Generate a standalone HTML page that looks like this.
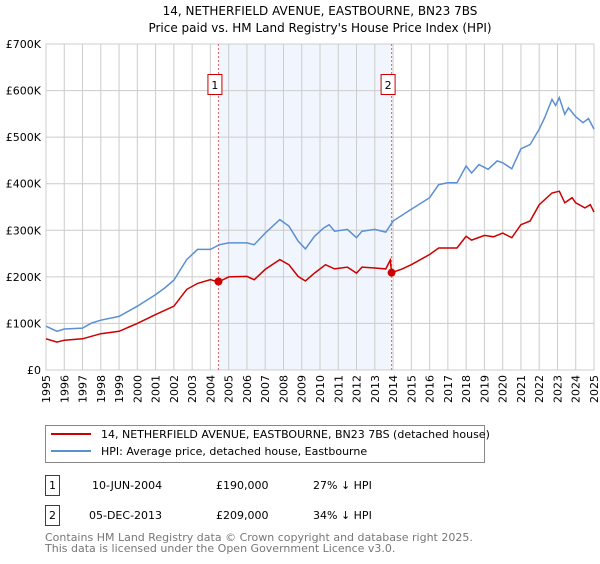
<!DOCTYPE html>
<html><head><meta charset="utf-8"><style>
body{margin:0;background:#fff;width:600px;height:560px;overflow:hidden;font-family:"DejaVu Sans","Liberation Sans",sans-serif;}
svg text{font-family:"DejaVu Sans","Liberation Sans",sans-serif;}
</style></head><body>
<svg id="chart" width="600" height="560" xmlns="http://www.w3.org/2000/svg">
<text x="320" y="15" font-size="12" text-anchor="middle" fill="#000">14, NETHERFIELD AVENUE, EASTBOURNE, BN23 7BS</text>
<text x="320" y="32" font-size="12" text-anchor="middle" fill="#000">Price paid vs. HM Land Registry's House Price Index (HPI)</text>
<g id="plot"></g>
<g>
<rect x="45.5" y="425.5" width="439" height="37" fill="#fff" stroke="#888"/>
<line x1="51" y1="434" x2="91" y2="434" stroke="#cc0000" stroke-width="2"/>
<text x="101" y="438" font-size="11">14, NETHERFIELD AVENUE, EASTBOURNE, BN23 7BS (detached house)</text>
<line x1="51" y1="451" x2="91" y2="451" stroke="#5b8fd3" stroke-width="2"/>
<text x="101" y="455" font-size="11">HPI: Average price, detached house, Eastbourne</text>
</g>
<g font-size="11">
<rect x="45.5" y="475.5" width="14" height="20" fill="#fff" stroke="#cc0000"/>
<text x="52.5" y="489" text-anchor="middle">1</text>
<text x="92" y="489">10-JUN-2004</text>
<text x="216" y="489">£190,000</text>
<text x="313" y="489">27% ↓ HPI</text>
<rect x="45.5" y="505.5" width="14" height="20" fill="#fff" stroke="#cc0000"/>
<text x="52.5" y="519" text-anchor="middle">2</text>
<text x="89" y="519">05-DEC-2013</text>
<text x="216" y="519">£209,000</text>
<text x="313" y="519">34% ↓ HPI</text>
</g>
<text x="45" y="541" font-size="11" fill="#777">Contains HM Land Registry data © Crown copyright and database right 2025.</text>
<text x="45" y="552" font-size="11" fill="#777">This data is licensed under the Open Government Licence v3.0.</text>
</svg>
<script>
const hpiYears=[1995,1995.6,1996,1997,1997.5,1998,1999,2000,2001,2001.5,2002,2002.7,2003.3,2004,2004.5,2005,2006,2006.4,2007,2007.8,2008.3,2008.8,2009.2,2009.7,2010.2,2010.5,2010.8,2011.5,2012,2012.3,2013,2013.6,2014,2015,2016,2016.5,2017,2017.5,2018,2018.3,2018.7,2019.2,2019.7,2020,2020.5,2021,2021.5,2022,2022.3,2022.7,2022.9,2023.1,2023.4,2023.6,2024,2024.4,2024.7,2025];
const hpiValues=[94,83,88,90,101,107,115,137,162,176,193,237,259,259,269,273,273,269,294,323,309,277,260,287,305,312,298,302,284,298,302,296,320,345,370,398,402,402,438,423,441,431,449,445,432,475,484,517,542,581,568,585,549,563,544,531,540,517];
const propYears=[1995,1995.6,1996,1997,1998,1999,2000,2001,2002,2002.7,2003.3,2004,2004.44,2005,2006,2006.4,2007,2007.8,2008.3,2008.8,2009.2,2009.7,2010.3,2010.8,2011.5,2012,2012.3,2013,2013.6,2013.85,2013.92,2014.5,2015,2016,2016.5,2017.5,2018,2018.3,2019,2019.5,2020,2020.5,2021,2021.5,2022,2022.7,2023.1,2023.4,2023.8,2024,2024.5,2024.8,2025];
const propValues=[67,60,64,67,78,83,100,119,137,173,186,194,189,200,201,194,216,237,226,201,191,208,226,217,221,208,221,219,217,236,209,217,226,248,262,262,287,279,289,286,294,284,312,320,355,380,384,359,370,359,348,355,339];
const saleYears=[2004.44,2013.92];
const saleValues=[190,209];
const saleLabels=["1","2"];
const yTicks=[0,100,200,300,400,500,600,700];
const yTickLabels=["£0","£100K","£200K","£300K","£400K","£500K","£600K","£700K"];
const xTicks=[1995,1996,1997,1998,1999,2000,2001,2002,2003,2004,2005,2006,2007,2008,2009,2010,2011,2012,2013,2014,2015,2016,2017,2018,2019,2020,2021,2022,2023,2024,2025];

const L=46,R=594,T=44,B=370;
const xs=y=>L+(y-1995)/30*(R-L);
const ys=v=>B-v/700*(B-T);
const NS="http://www.w3.org/2000/svg";
const g=document.getElementById('plot');
function mk(t,a){const e=document.createElementNS(NS,t);for(const k in a)e.setAttribute(k,a[k]);g.appendChild(e);return e;}
let sh=mk('rect',{x:xs(saleYears[0]),y:T,width:xs(saleYears[1])-xs(saleYears[0]),height:B-T,fill:'#eef3fc',opacity:0.8});


xTicks.forEach(t=>{const x=xs(t);
 let l=mk('line',{x1:x,y1:T,x2:x,y2:B,stroke:'#ccc','stroke-width':1});
 
 
 let tx=mk('text',{x:0,y:0,'font-size':11,'text-anchor':'end',transform:`translate(${x+4},${B+5}) rotate(-90)`});
 tx.textContent=t;
 
 
});
yTicks.forEach((t,i)=>{const y=ys(t);
 let l=mk('line',{x1:L,y1:y,x2:R,y2:y,stroke:'#ccc','stroke-width':1});
 
 
 let tx=mk('text',{x:L-5,y:y+4,'font-size':11,'text-anchor':'end'});
 tx.textContent=yTickLabels[i];
 
 
});
let ax=mk('rect',{x:L,y:T,width:R-L,height:B-T,fill:'none',stroke:'#ccc'});


saleYears.forEach((s,i)=>{const x=xs(s);
 let l=mk('line',{x1:x,y1:T,x2:x,y2:B,stroke:'#e06666','stroke-width':1,'stroke-dasharray':'2,2'});
 
 
});
function path(xa,va,col,name){
 let d=xa.map((y,i)=>(i?'L':'M')+xs(y).toFixed(1)+','+ys(va[i]).toFixed(1)).join(' ');
 let p=mk('path',{d:d,fill:'none',stroke:col,'stroke-width':1.5});
 
 
}
path(hpiYears,hpiValues,'#5b8fd3','hpi-line');
path(propYears,propValues,'#cc0000','property-price-line');
saleYears.forEach((s,i)=>{
 let c=mk('circle',{cx:xs(s),cy:ys(saleValues[i]),r:4,fill:'#cc0000'});
 
 
 let bx=mk('rect',{x:xs(s)-10.5,y:74.5,width:14,height:20,fill:'#fff',stroke:'#cc0000'});
 
 
 let t=mk('text',{x:xs(s)-3.5,y:89,'font-size':11,'text-anchor':'middle'});
 t.textContent=saleLabels[i];
 
 
});
</script>
</body></html>
